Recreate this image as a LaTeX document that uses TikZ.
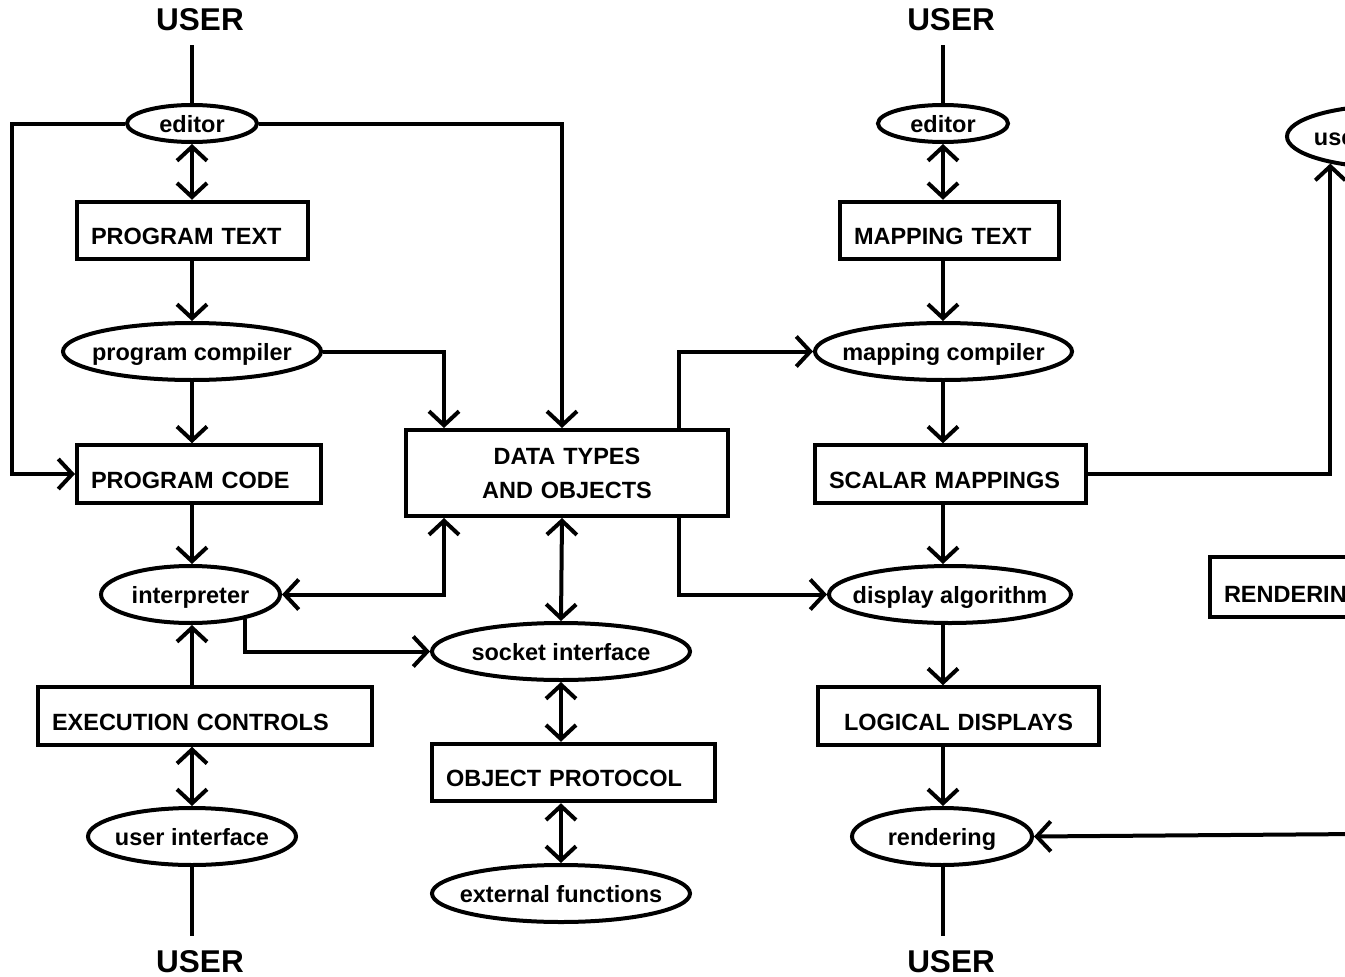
\documentclass[tikz,border=0pt]{standalone}
\usepackage{fontspec}
\setmainfont{Liberation Sans}
\usetikzlibrary{arrows.meta,shapes.geometric}
\newcommand{\ovtext}[1]{\makebox[0pt]{#1}}
\tikzset{
	box/.style={draw, rectangle, inner ysep=0pt, inner xsep=14pt, font=\fontsize{23.5}{34}\selectfont\bfseries},
	tbox/.style={box, align=left, text height=43pt, text depth=14.5pt},
	oval/.style={draw, ellipse, inner sep=0pt, minimum height=57pt, text height=17pt, text depth=0pt, font=\fontsize{23.5}{28}\selectfont\bfseries},
	usr/.style={inner sep=12pt, font=\fontsize{31.5}{36}\selectfont\bfseries},
}

\begin{document}
\begin{tikzpicture}[x=1pt, y=-1pt, line width=4pt, >={Straight Barb[length=14pt,width=30pt]}]
		%%%%% START %%%%%
		\useasboundingbox (0,0) rectangle (1345,977);
		\clip (0,0) rectangle (1345,977);
		
		%%%%% PROGRAM SIDE %%%%%
		\node[usr, anchor=base] (usrTL) at (200,30.5) {USER};
		\node[oval, minimum width=130pt, minimum height=37pt] (edL) at (192,123.5) {\ovtext{editor}};
		\node[tbox, text width=203pt] (ptext) at (192.5,230.5) {PROGRAM TEXT};
		\node[oval, minimum width=258pt] (pcomp) at (192,351.5) {\ovtext{program compiler}};
		\node[tbox, text width=216pt] (pcode) at (199,474) {PROGRAM CODE};
		\node[oval, minimum width=179pt] (interp) at (190.5,594.5) {\ovtext{interpreter}};
		\node[tbox, text width=306pt] (exec) at (205,716) {EXECUTION CONTROLS};
		\node[oval, minimum width=208pt] (uiL) at (192,836.5) {\ovtext{user interface}};
		\node[usr, anchor=base] (usrBL) at (200,972) {USER};
		\coordinate (colL) at (192,0);
		\coordinate (lft) at (12,474);
		
		%%%%% DATA %%%%%
		\node[box, align=center, text width=294pt, minimum height=86pt] (data) at (567,473) {DATA TYPES\\AND OBJECTS};
		\node[oval, minimum width=258pt] (sock) at (561,651.5) {\ovtext{socket interface}};
		\node[tbox, text width=255pt] (oprot) at (573.5,772.5) {OBJECT PROTOCOL};
		\node[oval, minimum width=258pt] (ext) at (561,893.5) {\ovtext{external functions}};
		\coordinate (colM) at (562,0);
		
		%%%%% DISPLAY SIDE %%%%%
		\node[usr, anchor=base] (usrTR) at (951,30.5) {USER};
		\node[oval, minimum width=130pt, minimum height=37pt] (edR) at (943,123.5) {\ovtext{editor}};
		\node[tbox, text width=191pt] (mtext) at (949.5,230.5) {MAPPING TEXT};
		\node[oval, minimum width=257pt] (mcomp) at (943.5,351.5) {\ovtext{mapping compiler}};
		\node[tbox, text width=243pt] (smap) at (950.5,474) {SCALAR MAPPINGS};
		\node[oval, minimum width=242pt] (dalg) at (950,594.5) {\ovtext{display algorithm}};
		\node[tbox, align=center, text width=253pt] (ldisp) at (958.5,716) {LOGICAL DISPLAYS};
		\node[oval, minimum width=180pt] (rend) at (942,836.5) {\ovtext{rendering}};
		\node[usr, anchor=base] (usrBR) at (951,972) {USER};
		\coordinate (colR) at (943,0);
		\node[oval, minimum width=208pt, minimum height=62pt] (uiR) at (1391,136.5) {\ovtext{user interface}};
		\node[tbox, text width=180pt, text height=45.5pt] (rbox) at (1314,587) {RENDERING};
		\coordinate (redge) at (1360,834);
		
		%%%%% LINKS %%%%%
		\draw (edL.north) -- (edL.north |- usrTL.south);
		\draw[<->] (edL.south) -- (ptext.north -| edL.south);
		\draw[->] (ptext.south -| colL) -- (pcomp.north);
		\draw[->] (pcomp.south) -- (pcode.north -| colL);
		\draw[->] (pcode.south -| colL) -- (interp.north -| colL);
		\draw[->] (exec.north -| colL) -- (interp.south -| colL);
		\draw[<->] (exec.south -| colL) -- (uiL.north);
		\draw (uiL.south) -- (uiL.south |- usrBL.north);
		\draw[->] (edL.west) -| (lft) -- (pcode.west);
		
		\draw[->] (edL.east) -| (data.north -| colM);
		\draw[->] (pcomp.east) -| ([xshift=40pt]data.north west);
		\draw[<->] (interp.east) -| ([xshift=40pt]data.south west);
		\draw[->] (interp.-24.6) |- (sock.west);
		\draw[<->] (data.south -| colM) -- (sock.north);
		\draw[<->] (sock.south) -- (oprot.north -| sock.south);
		\draw[<->] (oprot.south -| sock.south) -- (ext.north);
		\draw[->] ([xshift=-51pt]data.north east) |- (mcomp.west);
		\draw[->] ([xshift=-51pt]data.south east) |- (dalg.west);
		
		\draw (edR.north) -- (edR.north |- usrTR.south);
		\draw[<->] (edR.south) -- (mtext.north -| colR);
		\draw[->] (mtext.south -| colR) -- (mcomp.north -| colR);
		\draw[->] (mcomp.south -| colR) -- (smap.north -| colR);
		\draw[->] (smap.south -| colR) -- (dalg.north -| colR);
		\draw[->] (dalg.south -| colR) -- (ldisp.north -| colR);
		\draw[->] (ldisp.south -| colR) -- (rend.north -| colR);
		\draw (rend.south -| colR) -- (colR |- usrBR.north);
		\draw[->] (smap.east) -| (uiR.204.7);
		\draw[->] (redge) -- (rend.east);
		%%%%% END %%%%%
\end{tikzpicture}
\end{document}
